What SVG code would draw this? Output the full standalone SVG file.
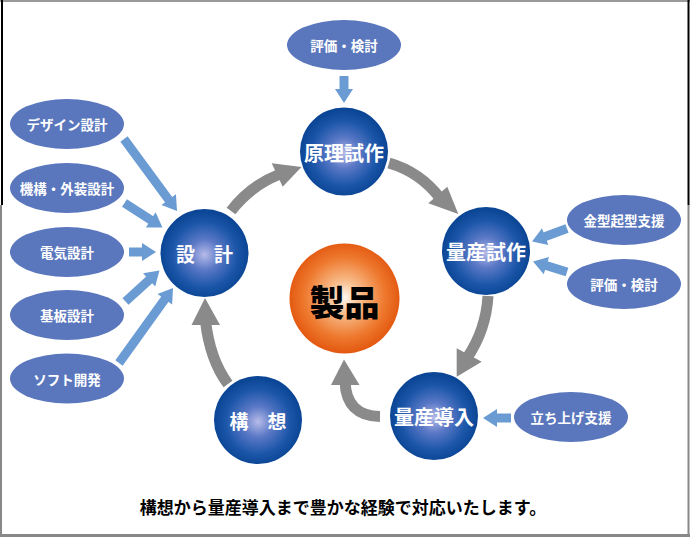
<svg xmlns="http://www.w3.org/2000/svg" width="690" height="537" viewBox="0 0 690 537">
<style>
.sat{fill:#5a77bd}
.st{font-family:"Noto Sans CJK JP",sans-serif;font-weight:bold;font-size:13.5px;fill:#fff;text-anchor:middle;dominant-baseline:central}
.nt{font-family:"Noto Sans CJK JP",sans-serif;font-weight:bold;font-size:20px;fill:#fff;text-anchor:middle;dominant-baseline:central}
.ba{stroke:#6a9bd3;stroke-width:9;fill:none;marker-end:url(#bh)}
.gs{stroke:#8a8a8a;stroke-width:11;fill:none}
.gh{fill:#8a8a8a}
</style>
<defs>
<radialGradient id="bg" cx="50%" cy="52%" r="50%">
<stop offset="0" stop-color="#b6bbe8"/>
<stop offset="0.35" stop-color="#5a78c6"/>
<stop offset="0.75" stop-color="#1a55a8"/>
<stop offset="1" stop-color="#0b4595"/>
</radialGradient>
<radialGradient id="og" cx="50%" cy="49%" r="50%">
<stop offset="0" stop-color="#fff6ee"/>
<stop offset="0.3" stop-color="#f8bc8a"/>
<stop offset="0.72" stop-color="#ee7a30"/>
<stop offset="1" stop-color="#e45a12"/>
</radialGradient>
<marker id="bh" markerUnits="userSpaceOnUse" markerWidth="16" markerHeight="20" refX="2" refY="9" orient="auto" overflow="visible">
<path d="M0,0 L14,9 L0,18 z" fill="#6a9bd3"/>
</marker>
</defs>
<rect x="0" y="0" width="690" height="537" fill="#fff"/>
<g id="frame">
<line x1="0" y1="1" x2="690" y2="1" stroke="#999" stroke-width="2"/>
<line x1="2" y1="0" x2="2" y2="205" stroke="#000" stroke-width="2"/>
<line x1="1" y1="205" x2="1" y2="537" stroke="#888" stroke-width="2"/>
<line x1="688.5" y1="0" x2="688.5" y2="205" stroke="#000" stroke-width="2"/>
<line x1="688.5" y1="205" x2="688.5" y2="537" stroke="#888" stroke-width="2"/>
<line x1="0" y1="535.5" x2="690" y2="535.5" stroke="#888" stroke-width="3"/>
</g>
<g id="connectors">
<line class="ba" x1="124" y1="139" x2="169.9" y2="201.3"/>
<line class="ba" x1="124.5" y1="203" x2="152.4" y2="221"/>
<line class="ba" x1="129" y1="252" x2="144" y2="252"/>
<line class="ba" x1="125.5" y1="301.5" x2="150.6" y2="278.6"/>
<line class="ba" x1="119" y1="363" x2="166" y2="297.7"/>
<line class="ba" x1="344" y1="76" x2="344" y2="91"/>
<line class="ba" x1="567" y1="228.5" x2="543.3" y2="237.3"/>
<line class="ba" x1="567" y1="272" x2="544.5" y2="265"/>
<line class="ba" x1="511" y1="418" x2="495" y2="418"/>
<path class="gs" d="M231,211 Q250,186 279,174.5"/>
<polygon class="gh" points="271.7,163.3 301.5,167 282.7,186.7"/>
<path class="gs" d="M389,163 Q420,172 440,198"/>
<polygon class="gh" points="428.3,203.3 458.3,214 447.3,186.7"/>
<path class="gs" d="M488,296 Q486,330 467,358"/>
<polygon class="gh" points="456.7,348.3 456.7,376.7 481.7,361.7"/>
<path class="gs" d="M380,416.5 Q346,416 345,381"/>
<polygon class="gh" points="331,385 344,359.5 359.5,385"/>
<path class="gs" d="M228,384 Q210,360 205.5,321"/>
<polygon class="gh" points="191.5,325 205,298 220,325"/>
</g>
<g id="n-hyouka-top"><ellipse class="sat" cx="344" cy="45" rx="57" ry="25"/><text class="st" x="344" y="45">評価・検討</text></g>
<g id="n-design"><ellipse class="sat" cx="67" cy="124" rx="57" ry="25"/><text class="st" x="67" y="124">デザイン設計</text></g>
<g id="n-kikou"><ellipse class="sat" cx="67" cy="188" rx="57" ry="25"/><text class="st" x="67" y="188">機構・外装設計</text></g>
<g id="n-denki"><ellipse class="sat" cx="67" cy="252" rx="57" ry="25"/><text class="st" x="67" y="252">電気設計</text></g>
<g id="n-kiban"><ellipse class="sat" cx="67" cy="315" rx="57" ry="25"/><text class="st" x="67" y="315">基板設計</text></g>
<g id="n-soft"><ellipse class="sat" cx="67" cy="378.5" rx="57" ry="25"/><text class="st" x="67" y="378.5">ソフト開発</text></g>
<g id="n-kanagata"><ellipse class="sat" cx="624" cy="220" rx="57" ry="25"/><text class="st" x="624" y="220">金型起型支援</text></g>
<g id="n-hyouka-right"><ellipse class="sat" cx="624" cy="284" rx="57" ry="25"/><text class="st" x="624" y="284">評価・検討</text></g>
<g id="n-tachiage"><ellipse class="sat" cx="571" cy="417" rx="57" ry="25"/><text class="st" x="571" y="417">立ち上げ支援</text></g>
<g id="n-genri"><circle cx="344" cy="151.5" r="44" fill="url(#bg)"/><text class="nt" x="344" y="152">原理試作</text></g>
<g id="n-sekkei"><circle cx="204.5" cy="253" r="44" fill="url(#bg)"/><text class="nt" x="204.5" y="253.5" style="font-size:19px">設　計</text></g>
<g id="n-ryousan-shisaku"><circle cx="486" cy="251" r="44" fill="url(#bg)"/><text class="nt" x="486" y="251.5">量産試作</text></g>
<g id="n-kousou"><circle cx="258" cy="420" r="44" fill="url(#bg)"/><text class="nt" x="258" y="420" style="font-size:19px">構　想</text></g>
<g id="n-ryousan-dounyuu"><circle cx="434" cy="416" r="44" fill="url(#bg)"/><text class="nt" x="434" y="416">量産導入</text></g>
<g id="n-seihin"><circle cx="344.5" cy="298.5" r="55" fill="url(#og)"/><text x="344.5" y="300" style="font-family:'Noto Sans CJK JP',sans-serif;font-weight:900;font-size:35px;fill:#000;text-anchor:middle;dominant-baseline:central">製品</text></g>
<text x="343" y="506" style="font-family:'Noto Sans CJK JP',sans-serif;font-weight:bold;font-size:17px;fill:#000;text-anchor:middle;dominant-baseline:central">構想から量産導入まで豊かな経験で対応いたします。</text>
</svg>
